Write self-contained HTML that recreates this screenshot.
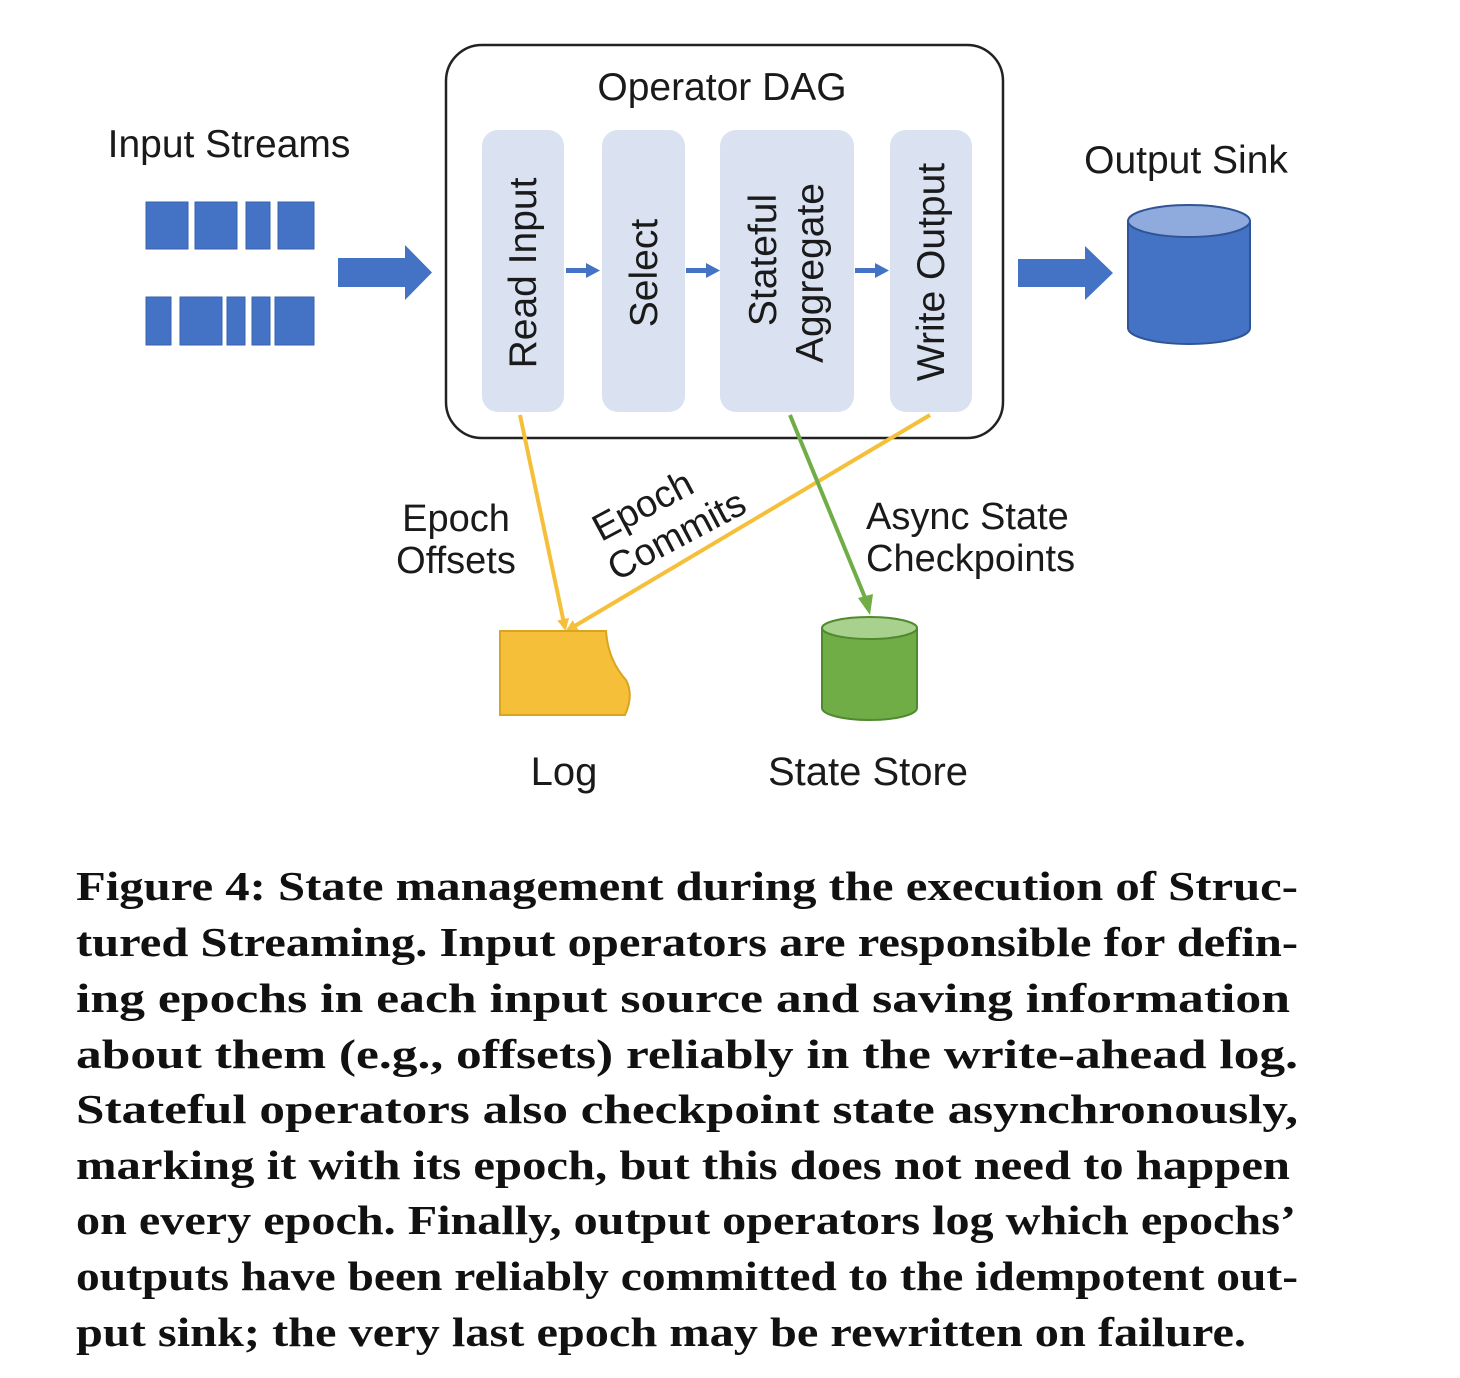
<!DOCTYPE html>
<html><head><meta charset="utf-8"><style>
html,body{margin:0;padding:0;background:#fff;}
svg{display:block}
.s{font-family:"Liberation Sans",sans-serif;fill:#1a1a1a}
.c{font-family:"Liberation Serif",serif;font-weight:bold;font-size:41px;fill:#111}
</style></head><body>
<svg width="1460" height="1378" viewBox="0 0 1460 1378" xmlns="http://www.w3.org/2000/svg">
<defs>
<marker id="ay" markerWidth="12" markerHeight="12" refX="9" refY="6" orient="auto" markerUnits="userSpaceOnUse" viewBox="0 0 12 12"><path d="M0,0 L12,6 L0,12 z" fill="#f5bf3a"/></marker>
</defs>
<rect x="446" y="45" width="557" height="393" rx="36" fill="#fff" stroke="#222" stroke-width="2.5"/>
<text class="s" x="722" y="100" font-size="39" text-anchor="middle">Operator DAG</text>
<g fill="#dae2f2">
<rect x="482" y="130" width="82" height="282" rx="16"/>
<rect x="602" y="130" width="83" height="282" rx="16"/>
<rect x="720" y="130" width="134" height="282" rx="16"/>
<rect x="890" y="130" width="82" height="282" rx="16"/>
</g>
<g class="s" font-size="39" text-anchor="middle">
<text transform="translate(536,273) rotate(-90)">Read Input</text>
<text transform="translate(657,273) rotate(-90)">Select</text>
<text transform="translate(776,260) rotate(-90)">Stateful</text>
<text transform="translate(823,273) rotate(-90)">Aggregate</text>
<text transform="translate(944,272) rotate(-90)">Write Output</text>
</g>
<g fill="#4472c4">
<rect x="566" y="268" width="22" height="5"/><path d="M586,263 L600,270.5 L586,278z"/>
<rect x="686" y="268" width="22" height="5"/><path d="M706,263 L720,270.5 L706,278z"/>
<rect x="855" y="268" width="22" height="5"/><path d="M875,263 L889,270.5 L875,278z"/>
</g>
<text class="s" x="229" y="157" font-size="39" text-anchor="middle">Input Streams</text>
<g fill="#4472c4" stroke="#3a62ab" stroke-width="1">
<rect x="146" y="202" width="42" height="47"/><rect x="195" y="202" width="42" height="47"/><rect x="246" y="202" width="24" height="47"/><rect x="278" y="202" width="36" height="47"/>
<rect x="146" y="297" width="25" height="48"/><rect x="180" y="297" width="42" height="48"/><rect x="227" y="297" width="18" height="48"/><rect x="252" y="297" width="18" height="48"/><rect x="275" y="297" width="39" height="48"/>
</g>
<path d="M338,258 L405,258 L405,245 L432,272.5 L405,300 L405,287 L338,287z" fill="#4472c4"/>
<path d="M1018,259 L1085,259 L1085,246 L1113,273 L1085,300 L1085,287 L1018,287z" fill="#4472c4"/>
<text class="s" x="1186" y="173" font-size="39" text-anchor="middle">Output Sink</text>
<path d="M1128,221 L1128,328 A61,16 0 0 0 1250,328 L1250,221z" fill="#4472c4" stroke="#2f5597" stroke-width="2"/>
<ellipse cx="1189" cy="221" rx="61" ry="16" fill="#8faadc" stroke="#2f5597" stroke-width="2"/>
<line x1="520" y1="415" x2="565" y2="628" stroke="#f5bf3a" stroke-width="4" marker-end="url(#ay)"/>
<line x1="930" y1="415" x2="568" y2="630" stroke="#f5bf3a" stroke-width="4" marker-end="url(#ay)"/>
<line x1="790" y1="415" x2="866" y2="600" stroke="#70ad47" stroke-width="4"/>
<path d="M858,598 L870,615 L873,594z" fill="#70ad47"/>
<g class="s" font-size="38">
<text x="456" y="531" text-anchor="middle">Epoch</text>
<text x="456" y="573" text-anchor="middle">Offsets</text>
<text x="866" y="529">Async State</text>
<text x="866" y="571">Checkpoints</text>
<g transform="translate(656,522) rotate(-28)"><text x="-4" y="-8" text-anchor="middle">Epoch</text><text x="12" y="34" text-anchor="middle">Commits</text></g>
<text x="564" y="785" font-size="40" text-anchor="middle">Log</text>
<text x="868" y="785" font-size="40" text-anchor="middle">State Store</text>
</g>
<path d="M500,631 L606,631 Q608,660 626,680 Q634,695 625,715 L500,715z" fill="#f5bf3a" stroke="#d9a41e" stroke-width="2"/>
<path d="M822,628 L822,708 A47.5,12 0 0 0 917,708 L917,628z" fill="#70ad47" stroke="#4f8a2f" stroke-width="2"/>
<ellipse cx="869.5" cy="628" rx="47.5" ry="11" fill="#a9d18e" stroke="#4f8a2f" stroke-width="2"/>
<g class="c">
<text x="76" y="900" textLength="1222" lengthAdjust="spacingAndGlyphs">Figure 4: State management during the execution of Struc-</text>
<text x="76" y="956" textLength="1222" lengthAdjust="spacingAndGlyphs">tured Streaming. Input operators are responsible for defin-</text>
<text x="76" y="1012" textLength="1214" lengthAdjust="spacingAndGlyphs">ing epochs in each input source and saving information</text>
<text x="76" y="1068" textLength="1222" lengthAdjust="spacingAndGlyphs">about them (e.g., offsets) reliably in the write-ahead log.</text>
<text x="76" y="1123" textLength="1222" lengthAdjust="spacingAndGlyphs">Stateful operators also checkpoint state asynchronously,</text>
<text x="76" y="1179" textLength="1214" lengthAdjust="spacingAndGlyphs">marking it with its epoch, but this does not need to happen</text>
<text x="76" y="1234" textLength="1220" lengthAdjust="spacingAndGlyphs">on every epoch. Finally, output operators log which epochs’</text>
<text x="76" y="1290" textLength="1222" lengthAdjust="spacingAndGlyphs">outputs have been reliably committed to the idempotent out-</text>
<text x="76" y="1346" textLength="1170" lengthAdjust="spacingAndGlyphs">put sink; the very last epoch may be rewritten on failure.</text>
</g>
</svg>
</body></html>
